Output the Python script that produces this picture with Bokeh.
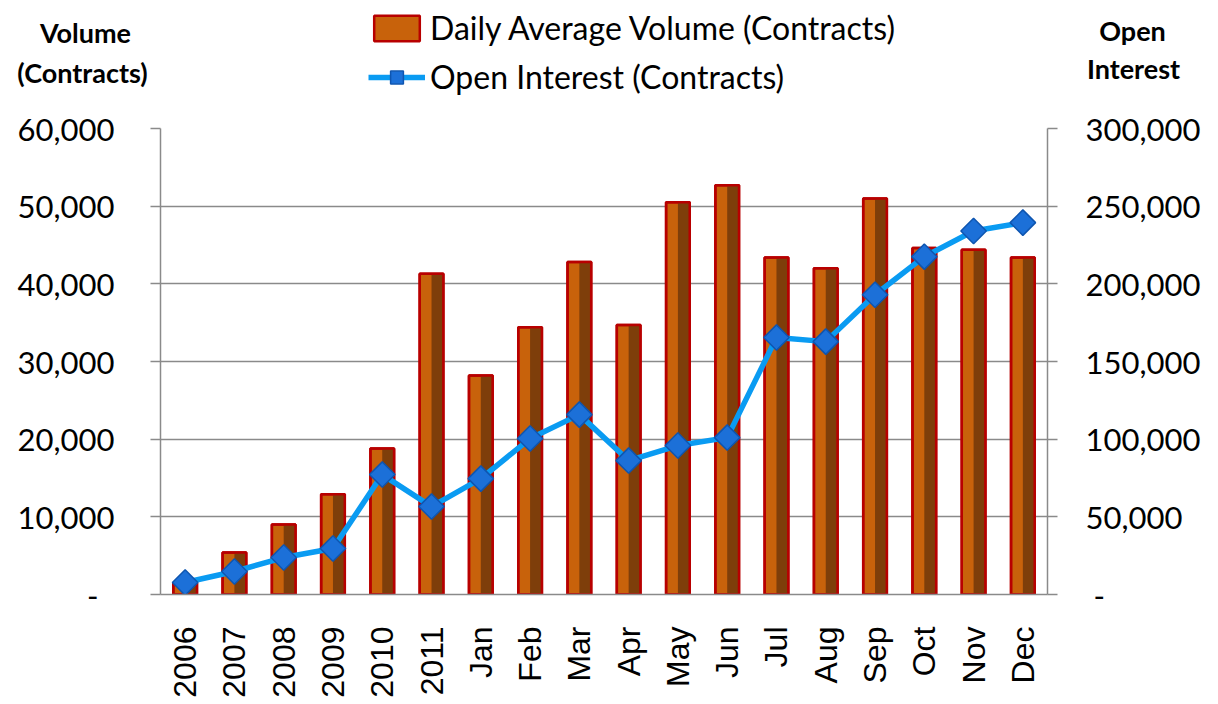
import math
from bokeh.plotting import figure
from bokeh.layouts import column
from bokeh.models import (FactorRange, Range1d, LinearAxis, CategoricalAxis, FixedTicker,
                          NumeralTickFormatter, Grid, Label, Legend, LegendItem, ColumnDataSource)
from bokeh.transform import dodge
from bokeh.embed import file_html
from bokeh.resources import INLINE

categories = ["2006", "2007", "2008", "2009", "2010", "2011", "Jan", "Feb", "Mar", "Apr",
              "May", "Jun", "Jul", "Aug", "Sep", "Oct", "Nov", "Dec"]
volume = [1500, 5400, 9000, 12900, 18800, 41300, 28200, 34400, 42800, 34700,
          50500, 52700, 43400, 42000, 51000, 44600, 44400, 43400]
open_interest = [7700, 14800, 23800, 29600, 77200, 56600, 74600, 100400, 115800, 86200,
                 95900, 101000, 165400, 162800, 193000, 217500, 234000, 239400]
left_ticks = [0, 10000, 20000, 30000, 40000, 50000, 60000]
right_ticks = [0, 50000, 100000, 150000, 200000, 250000, 300000]
series_names = ["Daily Average Volume (Contracts)", "Open Interest (Contracts)"]

GRAY = "#8a8a8a"
FONT = "Lato"
BAR_FILL = "#C8620B"
BAR_DARK = "#7E3E0A"
BAR_EDGE = "#B80000"
LINE_COL = "#0A9BF2"
DIAMOND_FILL = "#1C70D8"
DIAMOND_EDGE = "#0E55B0"

src = ColumnDataSource(dict(cat=categories, vol=volume, oi=open_interest))

# ---------------- main chart ----------------
p = figure(x_range=FactorRange(*categories), y_range=Range1d(0, 60000),
           frame_width=887, frame_height=466,
           min_border_left=160, min_border_right=163, min_border_top=20, min_border_bottom=106,
           output_backend="svg", toolbar_location=None,
           x_axis_location=None, y_axis_location=None)
p.outline_line_color = None
p.background_fill_color = "white"
p.frame_align = False
p.extra_y_ranges = {"oi": Range1d(0, 300000)}
for g in p.grid:
    g.visible = False

yl = LinearAxis(ticker=FixedTicker(ticks=left_ticks), formatter=NumeralTickFormatter(format="0,0"),
                major_label_overrides={0: "-\u00a0\u00a0"})
yr = LinearAxis(y_range_name="oi", ticker=FixedTicker(ticks=right_ticks),
                formatter=NumeralTickFormatter(format="0,0"),
                major_label_overrides={0: "\u00a0-"})
for ax, standoff in ((yl, 36), (yr, 28)):
    ax.axis_line_color = GRAY
    ax.axis_line_width = 1.5
    ax.major_tick_line_color = GRAY
    ax.major_tick_line_width = 1.5
    ax.major_tick_out = 10
    ax.major_tick_in = 0
    ax.minor_tick_line_color = None
    ax.major_label_text_font = FONT
    ax.major_label_text_font_size = "31px"
    ax.major_label_text_color = "black"
    ax.major_label_standoff = standoff
p.add_layout(yl, "left")
p.add_layout(yr, "right")

xc = CategoricalAxis()
xc.axis_line_color = GRAY
xc.axis_line_width = 1.5
xc.major_tick_line_color = None
xc.major_tick_out = 0
xc.minor_tick_line_color = None
xc.major_label_orientation = math.pi / 2
xc.major_label_text_font = "Liberation Sans"
xc.major_label_text_font_size = "32px"
xc.major_label_text_color = "black"
xc.major_label_standoff = 32
p.add_layout(xc, "below")

p.add_layout(Grid(dimension=1, ticker=yl.ticker, grid_line_color=GRAY, grid_line_width=1.5))

# bars (bevel look: lighter left half, darker right half, red rim)
p.vbar(x="cat", top="vol", width=0.48, source=src,
       fill_color=BAR_FILL, line_color=BAR_EDGE, line_width=2.5)
p.vbar(x=dodge("cat", 0.12, range=p.x_range), top="vol", width=0.24, source=src,
       fill_color=BAR_DARK, line_color=None)
p.vbar(x="cat", top="vol", width=0.48, source=src,
       fill_color=None, line_color=BAR_EDGE, line_width=2.5)

# open interest line with diamond markers (square turned 45 degrees)
p.line(x="cat", y="oi", y_range_name="oi", source=src, line_color=LINE_COL, line_width=5.5)
p.scatter(x="cat", y="oi", y_range_name="oi", source=src, marker="square", angle=math.pi / 4,
          size=18, fill_color=DIAMOND_FILL, line_color=DIAMOND_EDGE, line_width=1.5)

# ---------------- header strip: legend and axis titles ----------------
top = figure(width=1210, height=108, x_range=Range1d(0, 1210), y_range=Range1d(108, 0),
             min_border=0, output_backend="svg", toolbar_location=None,
             x_axis_location=None, y_axis_location=None)
top.outline_line_color = None
top.background_fill_color = "white"
top.frame_align = False
for g in top.grid:
    g.visible = False

# legend-only renderers: a single NaN row so nothing is drawn on the strip
nan = float("nan")
swatch = ColumnDataSource(dict(x=[nan], y=[nan], top=[nan]))
lg_bar = top.vbar(x="x", top="top", width=1, source=swatch,
                  fill_color=BAR_FILL, line_color=BAR_EDGE, line_width=2.5)
lg_line = top.line(x="x", y="y", source=swatch, line_color=LINE_COL, line_width=5.5)
lg_pts = top.scatter(x="x", y="y", source=swatch, marker="square", angle=math.pi / 4, size=18,
                     fill_color=DIAMOND_FILL, line_color=DIAMOND_EDGE, line_width=1.5)

legend = Legend(items=[LegendItem(label=series_names[0], renderers=[lg_bar]),
                       LegendItem(label=series_names[1], renderers=[lg_line, lg_pts])],
                location=(368, 12), orientation="vertical",
                glyph_width=57, glyph_height=32, label_text_font=FONT,
                label_text_font_size="32px", label_text_color="black",
                border_line_color=None, background_fill_alpha=0,
                padding=0, spacing=10, label_standoff=5, margin=0)
top.add_layout(legend)

for txt, x, y in [("Volume", 85, 32), ("(Contracts)", 82, 72),
                  ("Open", 1132, 30), ("Interest", 1133, 68)]:
    top.add_layout(Label(x=x, y=y, text=txt, text_align="center", text_baseline="middle",
                         text_font=FONT, text_font_style="bold", text_font_size="27px",
                         text_color="black"))

layout = column(top, p, spacing=0)
open("out.html", "w").write(file_html(layout, INLINE))
